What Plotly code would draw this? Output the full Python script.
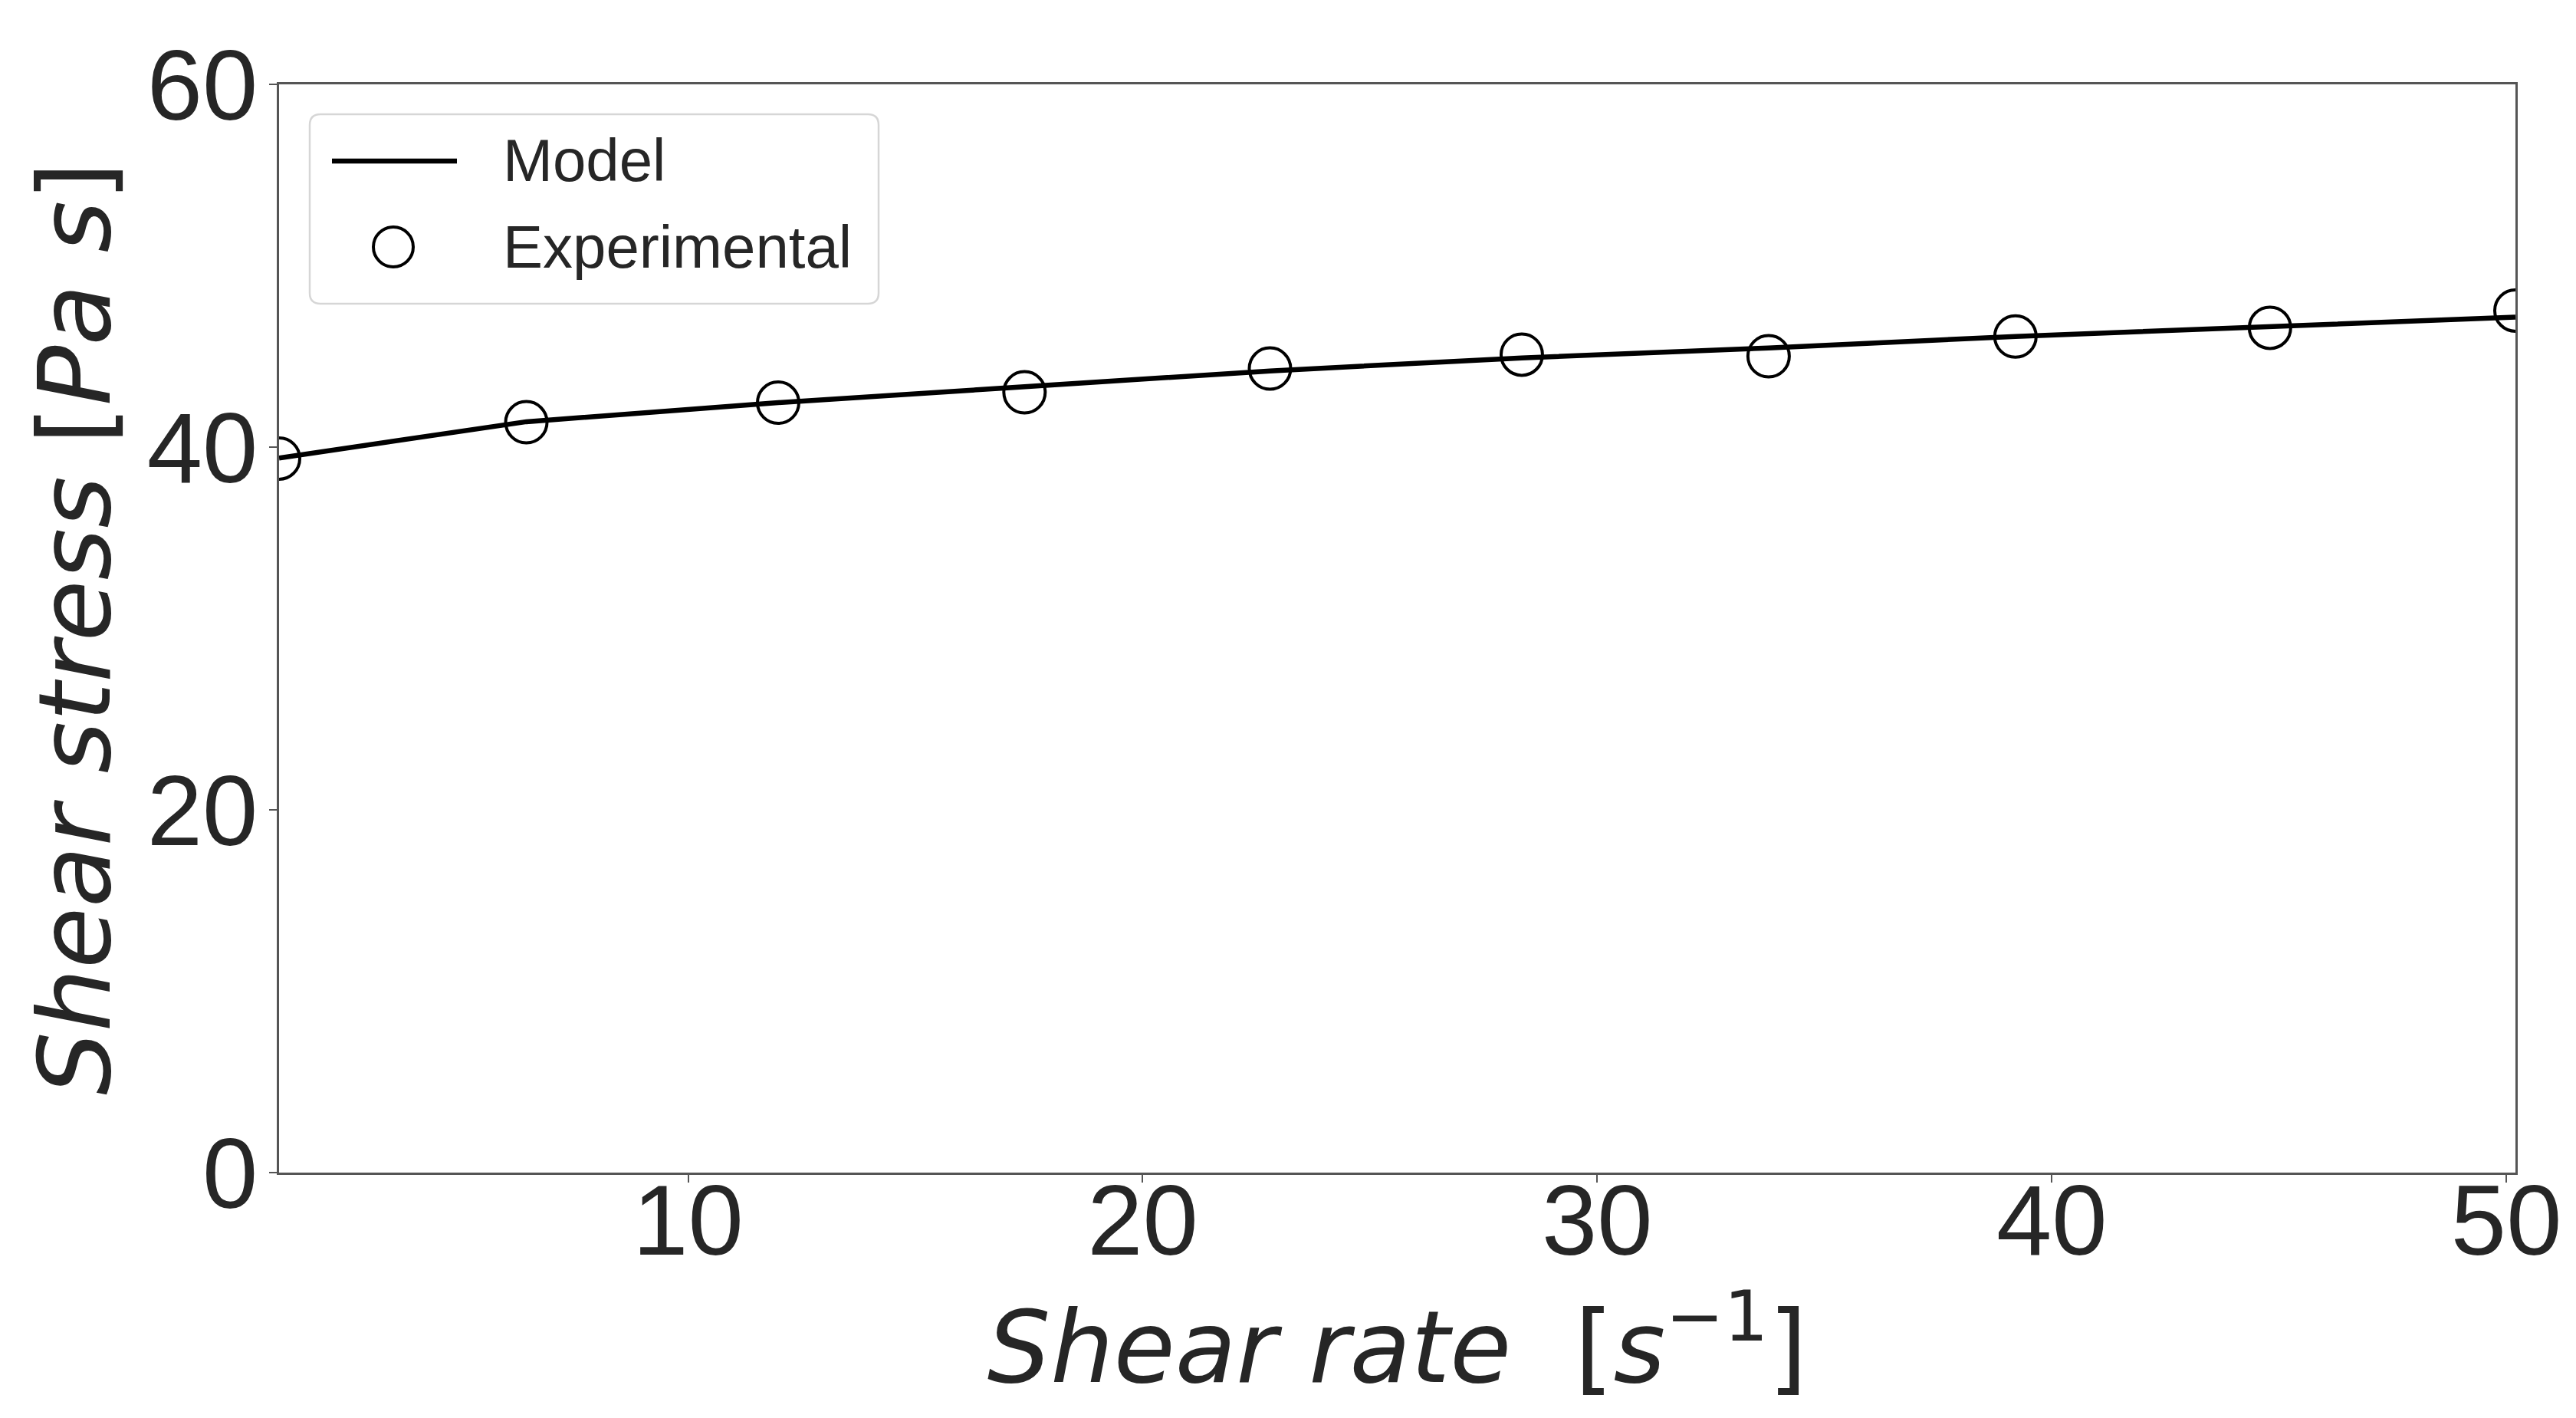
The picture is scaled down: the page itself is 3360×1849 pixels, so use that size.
import plotly.graph_objects as go

# ---- data ----
shear_rate = [1.0, 6.44, 11.98, 17.4, 22.8, 28.34, 33.77, 39.2, 44.8, 50.2]
stress_exp = [39.37, 41.37, 42.45, 43.02, 44.33, 45.1, 45.01, 46.1, 46.58, 47.53]
stress_model = [39.4, 41.4, 42.45, 43.3, 44.2, 44.92, 45.47, 46.1, 46.64, 47.17]
x_ticks = [10, 20, 30, 40, 50]
y_ticks = [0, 20, 40, 60]
series_names = ["Model", "Experimental"]

# ---- layout geometry (pixels) ----
W, H = 3360, 1849
L, R, T, B = 356, 87, 102, 328
PW, PH = W - L - R, H - T - B


def px(X):
    return (X - L) / PW


def py(Y):
    return (H - B - Y) / PH


TEXT = "#262626"
AX = "#555555"
TICK_FONT = dict(family="Liberation Sans, Arial, sans-serif", size=130, color=TEXT)
TITLE_FONT = dict(family="DejaVu Sans, sans-serif", size=130, color=TEXT)
LEG_FONT = dict(family="Liberation Sans, Arial, sans-serif", size=78, color=TEXT)

fig = go.Figure()
fig.add_trace(go.Scatter(
    x=shear_rate, y=stress_model, mode="lines", name=series_names[0],
    line=dict(color="black", width=6.5), showlegend=False,
))
fig.add_trace(go.Scatter(
    x=shear_rate, y=stress_exp, mode="markers", name=series_names[1],
    marker=dict(symbol="circle-open", size=54, color="black",
                line=dict(color="black", width=4)),
    showlegend=False,
))

# ---- legend drawn to match the reference's large symbols ----
bx0, by0, bx1, by1, rr = 396, 141, 1138, 388, 14
rx, ry = rr / PW, rr / PH
x0, x1, y0, y1 = px(bx0), px(bx1), py(by0), py(by1)
path = (f"M{x0+rx},{y0} L{x1-rx},{y0} Q{x1},{y0} {x1},{y0-ry} "
        f"L{x1},{y1+ry} Q{x1},{y1} {x1-rx},{y1} L{x0+rx},{y1} "
        f"Q{x0},{y1} {x0},{y1+ry} L{x0},{y0-ry} Q{x0},{y0} {x0+rx},{y0} Z")
shapes = [
    dict(type="path", xref="paper", yref="paper", path=path,
         line=dict(color="#d6d6d6", width=2.5), fillcolor="rgba(255,255,255,0.85)",
         layer="above"),
    dict(type="line", xref="paper", yref="paper",
         x0=px(425), x1=px(588), y0=py(202), y1=py(202),
         line=dict(color="black", width=6.5), layer="above"),
    dict(type="circle", xref="paper", yref="paper",
         x0=px(505 - 26), x1=px(505 + 26), y0=py(314 + 26), y1=py(314 - 26),
         line=dict(color="black", width=4), layer="above"),
]
annotations = [
    dict(text=series_names[0], xref="paper", yref="paper", x=px(646), y=py(201),
         xanchor="left", yanchor="middle", showarrow=False, font=LEG_FONT),
    dict(text=series_names[1], xref="paper", yref="paper", x=px(646), y=py(314),
         xanchor="left", yanchor="middle", showarrow=False, font=LEG_FONT),
]

fig.update_layout(
    width=W, height=H,
    margin=dict(l=L, r=R, t=T, b=B, autoexpand=False),
    paper_bgcolor="white", plot_bgcolor="white",
    showlegend=False,
    shapes=shapes, annotations=annotations,
)
fig.update_xaxes(
    range=[1.0, 50.2], tickvals=x_ticks, ticktext=[str(v) for v in x_ticks],
    showgrid=False, zeroline=False,
    showline=True, linecolor=AX, linewidth=2.5, mirror=True,
    ticks="outside", ticklen=10, tickwidth=2, tickcolor=AX,
    tickfont=TICK_FONT, ticklabelstandoff=-62,
    title=dict(text="<i>Shear rate</i>\u00a0\u00a0[<i>s</i><sup>\u22121</sup>]",
               font=TITLE_FONT, standoff=18),
)
fig.update_yaxes(
    range=[0, 60], tickvals=y_ticks, ticktext=[str(v) for v in y_ticks],
    showgrid=False, zeroline=False,
    showline=True, linecolor=AX, linewidth=2.5, mirror=True,
    ticks="outside", ticklen=10, tickwidth=2, tickcolor=AX,
    tickfont=TICK_FONT, ticklabelstandoff=-11,
    title=dict(text="<i>Shear stress</i> [<i>Pa s</i>]", font=TITLE_FONT, standoff=5),
)

fig.write_html("out.html")
